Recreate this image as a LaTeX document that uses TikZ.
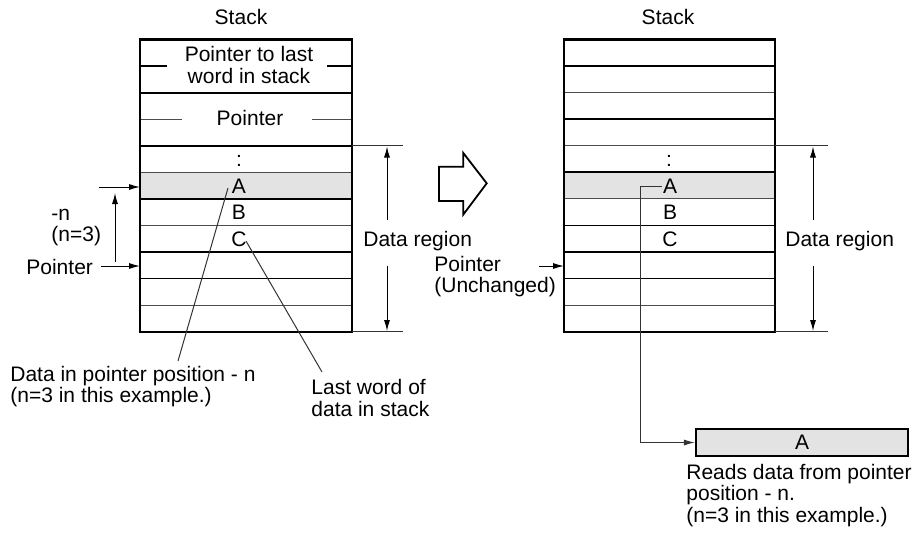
\documentclass[tikz,border=0pt]{standalone}
\usepackage{fontspec}
\setmainfont{Liberation Sans}
\usetikzlibrary{arrows.meta}
\begin{document}
\begin{tikzpicture}[x=0.5pt,y=-0.5pt,
  font=\fontsize{10.5}{10.7}\selectfont,
  txt/.style={inner sep=0pt},
  mtxt/.style={inner sep=0pt, align=left},
  rowthick/.style={line width=0.9pt},
  rowthin/.style={line width=0.55pt, draw=black!70},
  outline/.style={line width=1.1pt},
  lead/.style={line width=0.5pt, draw=black!80},
  arr/.style={-{Latex[length=5.5pt,width=3pt]}, line width=0.5pt},
  shade/.style={fill=black!11}]
\useasboundingbox (0,0) rectangle (915,532);

% ---------- left stack ----------
\fill[shade] (140,172.3) rectangle (352,198.86);
\draw[rowthick] (140,66.06) -- (167,66.06);
\draw[rowthick] (327,66.06) -- (352,66.06);
\draw[rowthick] (140,92.62) -- (352,92.62);
\draw[rowthin]  (140,119.18) -- (182,119.18);
\draw[rowthin]  (312,119.18) -- (352,119.18);
\draw[rowthick] (140,145.74) -- (352,145.74);
\draw[rowthin]  (140,172.3) -- (352,172.3);
\draw[rowthick] (140,198.86) -- (352,198.86);
\draw[rowthin]  (140,225.42) -- (352,225.42);
\draw[rowthick] (140,251.98) -- (352,251.98);
\draw[rowthick] (140,278.54) -- (352,278.54);
\draw[rowthin]  (140,305.1) -- (352,305.1);
\draw[outline] (140,39.5) rectangle (352,331.66);

\node[txt] (stackL) at (241,17) {Stack};
\node[txt, align=center] (ptrlast) at (249,65) {Pointer to last\\word in stack};
\node[txt] (ptrL) at (250,118) {Pointer};
\node[txt] (dotsL) at (239,161) {:};
\node[txt] (aL) at (239,186) {A};
\node[txt] (bL) at (239,212) {B};
\node[txt] (cL) at (239,239) {C};

% data region (left)
\draw[lead] (352,145.74) -- (403,145.74);
\draw[lead] (352,331.66) -- (403,331.66);
\node[txt, anchor=west] (drL) at (363,241) {Data region};
\coordinate (drLu0) at (387,220);
\coordinate (drLu1) at (387,146.5);
\coordinate (drLd0) at (387,265.5);
\coordinate (drLd1) at (387,331);
\draw[arr] (drLu0) -- (drLu1);
\draw[arr] (drLd0) -- (drLd1);

% left pointers
\coordinate (pA0) at (99,187);
\coordinate (pA1) at (140,187);
\coordinate (pP1) at (140,266);
\coordinate (nv0) at (115,262);
\coordinate (nv1) at (115,193);
\node[mtxt, anchor=west] (nlab) at (51,227.5) {-n\\(n=3)};
\node[txt, anchor=west] (ptrLab) at (26,267) {Pointer};
\draw[arr] (pA0) -- (pA1);
\draw[arr] (ptrLab.east) ++(8,-1) -- (pP1);
\draw[arr] (nv0) -- (nv1);

% leader lines
\node[mtxt, anchor=west] (dataN) at (10,386.5) {Data in pointer position - n\\(n=3 in this example.)};
\node[mtxt, anchor=west] (lastW) at (311,398) {Last word of\\data in stack};
\coordinate (leadA0) at (228,188);
\coordinate (leadA1) at (178,361);
\coordinate (leadC0) at (246,241);
\coordinate (leadC1) at (322,372);
\draw[lead] (leadA0) -- (leadA1);
\draw[lead] (leadC0) -- (leadC1);

% ---------- big hollow arrow ----------
\draw[line width=0.9pt] (439,166.7) -- (463.3,166.7) -- (463.3,153) -- (486.7,183.3)
  -- (463.3,214.5) -- (463.3,201) -- (439,201) -- cycle;

% ---------- right stack ----------
\fill[shade] (564,172.3) rectangle (775,198.86);
\draw[rowthick] (564,66.06) -- (775,66.06);
\draw[rowthin]  (564,92.62) -- (775,92.62);
\draw[rowthick] (564,119.18) -- (775,119.18);
\draw[rowthin]  (564,145.74) -- (775,145.74);
\draw[rowthick] (564,172.3) -- (775,172.3);
\draw[rowthin]  (564,198.86) -- (775,198.86);
\draw[rowthick] (564,225.42) -- (775,225.42);
\draw[rowthick] (564,251.98) -- (775,251.98);
\draw[rowthick] (564,278.54) -- (775,278.54);
\draw[rowthin]  (564,305.1) -- (775,305.1);
\draw[outline] (564,39.5) rectangle (775,331.66);

\node[txt] (stackR) at (668,17) {Stack};
\node[txt] (dotsR) at (669,161) {:};
\node[txt] (aR) at (670,186) {A};
\node[txt] (bR) at (670,212) {B};
\node[txt] (cR) at (670,239) {C};

% data region (right)
\draw[lead] (775,145.74) -- (828,145.74);
\draw[lead] (775,331.66) -- (828,331.66);
\node[txt, anchor=west] (drR) at (785,241) {Data region};
\coordinate (drRu0) at (813,220);
\coordinate (drRu1) at (813,146.5);
\coordinate (drRd0) at (813,265.5);
\coordinate (drRd1) at (813,331);
\draw[arr] (drRu0) -- (drRu1);
\draw[arr] (drRd0) -- (drRd1);

% pointer (unchanged)
\node[mtxt, anchor=west] (ptrR) at (434,276.5) {Pointer\\(Unchanged)};
\coordinate (pR0) at (539,266);
\coordinate (pR1) at (564,266);
\draw[arr] (pR0) -- (pR1);

% read result
\node[draw, outline, shade, inner sep=0pt, minimum width=106pt, minimum height=13.5pt] (boxA) at (802,442.5) {A};
\coordinate (turn) at (640,186);
\draw[lead, arr] (aR.west) ++(-1,0) -- (turn) |- (boxA.west);
\node[mtxt, anchor=west] (reads) at (686,495.5) {Reads data from pointer\\position - n.\\(n=3 in this example.)};
\end{tikzpicture}
\end{document}
